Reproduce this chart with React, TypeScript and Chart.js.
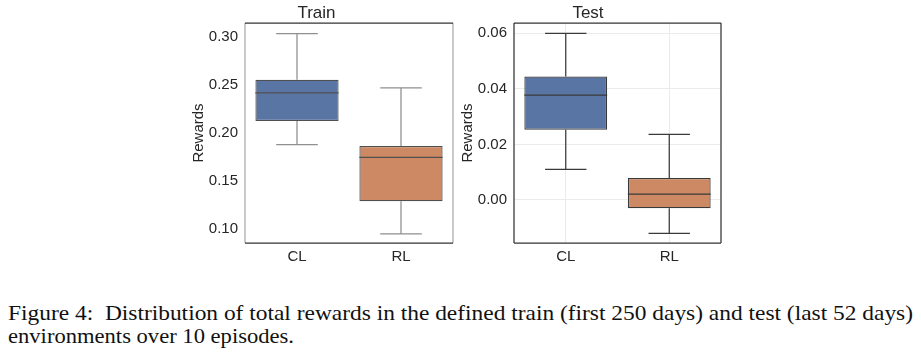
import React, { useEffect, useLayoutEffect, useRef } from 'react';
import { Chart, registerables } from 'chart.js';

Chart.register(...registerables);

// ---------- data ----------
const CATEGORIES = ['CL', 'RL'];

const TRAIN_MIN = [0.188, 0.095];
const TRAIN_Q1 = [0.2125, 0.129];
const TRAIN_MEDIAN = [0.2417, 0.1747];
const TRAIN_Q3 = [0.2556, 0.1865];
const TRAIN_MAX = [0.3035, 0.247];
const TRAIN_TICKS = [0.1, 0.15, 0.2, 0.25, 0.3];

const TEST_MIN = [0.011, -0.012];
const TEST_Q1 = [0.0253, -0.003];
const TEST_MEDIAN = [0.0377, 0.0021];
const TEST_Q3 = [0.0444, 0.0079];
const TEST_MAX = [0.06, 0.0236];
const TEST_TICKS = [0.0, 0.02, 0.04, 0.06];

const BOX_COLORS = ['#5975a4', '#cc8963'];

const CAPTION_LINE_1 =
  'Figure 4:  Distribution of total rewards in the defined train (first 250 days) and test (last 52 days)';
const CAPTION_LINE_2 = 'environments over 10 episodes.';

const SANS = '"Liberation Sans", Arial, sans-serif';
const TEXT_COLOR = '#262626';

// ---------- plugin: whiskers, medians, frame ----------
const boxExtrasPlugin = {
  id: 'boxExtras',
  afterDatasetsDraw(chart: any, _args: any, opts: any) {
    const { ctx, chartArea } = chart;
    const xs = chart.scales.x;
    const ys = chart.scales.y;
    const meta = chart.getDatasetMeta(0);
    ctx.save();
    ctx.lineCap = 'butt';
    for (let i = 0; i < opts.median.length; i++) {
      const bar = meta.data[i];
      const cx = xs.getPixelForValue(i);
      const half = bar.width / 2;
      const capHalf = half / 2;
      const yMin = ys.getPixelForValue(opts.min[i]);
      const yQ1 = ys.getPixelForValue(opts.q1[i]);
      const yQ3 = ys.getPixelForValue(opts.q3[i]);
      const yMax = ys.getPixelForValue(opts.max[i]);
      const yMed = ys.getPixelForValue(opts.median[i]);
      ctx.strokeStyle = opts.whiskerColor;
      ctx.lineWidth = opts.whiskerWidth;
      ctx.beginPath();
      ctx.moveTo(cx, yQ3);
      ctx.lineTo(cx, yMax);
      ctx.moveTo(cx - capHalf, yMax);
      ctx.lineTo(cx + capHalf, yMax);
      ctx.moveTo(cx, yQ1);
      ctx.lineTo(cx, yMin);
      ctx.moveTo(cx - capHalf, yMin);
      ctx.lineTo(cx + capHalf, yMin);
      ctx.stroke();
      ctx.strokeStyle = opts.medianColor;
      ctx.lineWidth = opts.medianWidth;
      ctx.beginPath();
      ctx.moveTo(cx - half, yMed);
      ctx.lineTo(cx + half, yMed);
      ctx.stroke();
    }
    // frame
    const { left, right, top, bottom } = chartArea;
    const s = opts.spines;
    ctx.lineWidth = 1.25;
    const line = (c: string, x1: number, y1: number, x2: number, y2: number) => {
      ctx.strokeStyle = c;
      ctx.beginPath();
      ctx.moveTo(x1, y1);
      ctx.lineTo(x2, y2);
      ctx.stroke();
    };
    line(s.left, left, top, left, bottom);
    line(s.right, right, top, right, bottom);
    line(s.top, left, top, right, top);
    line(s.bottom, left, bottom, right, bottom);
    ctx.restore();
  },
};

type PanelProps = {
  title: string;
  mins: number[];
  q1: number[];
  med: number[];
  q3: number[];
  maxs: number[];
  ticks: number[];
  yMin: number;
  yMax: number;
  grid: boolean;
  yWidth: number;
  titlePad: number;
  rightPad: number;
  edge: string;
  whisker: string;
  spines: any;
  width: number;
  left: number;
};

function Panel(p: PanelProps) {
  const ref = useRef<HTMLCanvasElement | null>(null);
  useEffect(() => {
    if (!ref.current) return;
    const tickFont = { family: SANS, size: 15, lineHeight: 1.2 };
    const chart = new Chart(ref.current, {
      type: 'bar',
      data: {
        labels: CATEGORIES,
        datasets: [
          {
            data: CATEGORIES.map((_, i) => [p.q1[i], p.q3[i]]) as any,
            backgroundColor: BOX_COLORS,
            borderColor: p.edge,
            borderWidth: 1.25,
            borderSkipped: false,
            barPercentage: 0.8,
            categoryPercentage: 1,
          },
        ],
      },
      options: {
        responsive: false,
        animation: false,
        events: [],
        layout: { padding: { left: 0, right: p.rightPad, top: 0, bottom: 0 } },
        plugins: {
          legend: { display: false },
          tooltip: { enabled: false },
          title: {
            display: true,
            text: p.title,
            color: TEXT_COLOR,
            font: { family: SANS, size: 17, weight: 'normal', lineHeight: '18px' } as any,
            padding: { top: 4, bottom: 1 },
          },
          boxExtras: {
            min: p.mins,
            q1: p.q1,
            median: p.med,
            q3: p.q3,
            max: p.maxs,
            whiskerColor: p.whisker,
            whiskerWidth: 1.25,
            medianColor: p.edge,
            medianWidth: 1.25,
            spines: p.spines,
          },
        } as any,
        scales: {
          x: {
            grid: { display: p.grid, drawTicks: false, offset: false, color: '#ebebeb', lineWidth: 1 },
            border: { display: false },
            ticks: { font: tickFont, color: TEXT_COLOR, padding: 5 },
            afterFit: (s: any) => {
              s.height = 32;
            },
          },
          y: {
            min: p.yMin,
            max: p.yMax,
            grid: { display: p.grid, drawTicks: false, color: '#ebebeb', lineWidth: 1 },
            border: { display: false },
            ticks: {
              font: tickFont,
              color: TEXT_COLOR,
              padding: 7,
              callback: (v: any) => Number(v).toFixed(2),
            },
            afterBuildTicks: (s: any) => {
              s.ticks = p.ticks.map((v) => ({ value: v }));
            },
            title: {
              display: true,
              text: 'Rewards',
              color: TEXT_COLOR,
              font: tickFont,
              padding: { top: p.titlePad, bottom: 0 },
            },
            afterFit: (s: any) => {
              s.width = p.yWidth;
            },
          },
        },
      },
      plugins: [boxExtrasPlugin],
    });
    return () => chart.destroy();
  }, []);
  return (
    <canvas
      ref={ref}
      width={p.width}
      height={275}
      style={{ position: 'absolute', left: p.left, top: 0, width: p.width, height: 275 }}
    />
  );
}

export default function App() {
  const line1Ref = useRef<HTMLSpanElement | null>(null);
  const line2Ref = useRef<HTMLSpanElement | null>(null);
  useLayoutEffect(() => {
    const fit = (el: HTMLSpanElement | null, target: number) => {
      if (!el) return;
      const w = el.getBoundingClientRect().width;
      if (w > 0) el.style.transform = `scaleX(${target / w})`;
    };
    fit(line1Ref.current, 905);
    fit(line2Ref.current, 286);
  }, []);
  const lineStyle: React.CSSProperties = {
    display: 'inline-block',
    transformOrigin: 'left top',
    whiteSpace: 'pre',
  };
  return (
    <div
      style={{
        position: 'fixed',
        left: 0,
        top: 0,
        width: 921,
        height: 355,
        background: '#ffffff',
        overflow: 'hidden',
      }}
    >
      <Panel
        title="Train"
        mins={TRAIN_MIN}
        q1={TRAIN_Q1}
        med={TRAIN_MEDIAN}
        q3={TRAIN_Q3}
        maxs={TRAIN_MAX}
        ticks={TRAIN_TICKS}
        yMin={0.0854}
        yMax={0.3146}
        grid={false}
        yWidth={65}
        titlePad={10}
        rightPad={2}
        edge="#505050"
        whisker="#8f8f8f"
        spines={{ left: '#a8a8a8', right: '#a8a8a8', top: '#333333', bottom: '#333333' }}
        width={275}
        left={180}
      />
      <Panel
        title="Test"
        mins={TEST_MIN}
        q1={TEST_Q1}
        med={TEST_MEDIAN}
        q3={TEST_Q3}
        maxs={TEST_MAX}
        ticks={TEST_TICKS}
        yMin={-0.0155}
        yMax={0.0637}
        grid={true}
        yWidth={59}
        titlePad={4}
        rightPad={9}
        edge="#3a3a3a"
        whisker="#3a3a3a"
        spines={{ left: '#333333', right: '#333333', top: '#333333', bottom: '#333333' }}
        width={275}
        left={455}
      />
      <div
        style={{
          position: 'absolute',
          left: 8,
          top: 301,
          fontFamily: '"Liberation Serif", "Times New Roman", serif',
          fontSize: 22,
          lineHeight: '23px',
          color: '#111111',
          width: 1200,
        }}
      >
        <div style={{ height: 23 }}>
          <span ref={line1Ref} style={lineStyle}>
            {CAPTION_LINE_1}
          </span>
        </div>
        <div style={{ height: 23 }}>
          <span ref={line2Ref} style={lineStyle}>
            {CAPTION_LINE_2}
          </span>
        </div>
      </div>
    </div>
  );
}
